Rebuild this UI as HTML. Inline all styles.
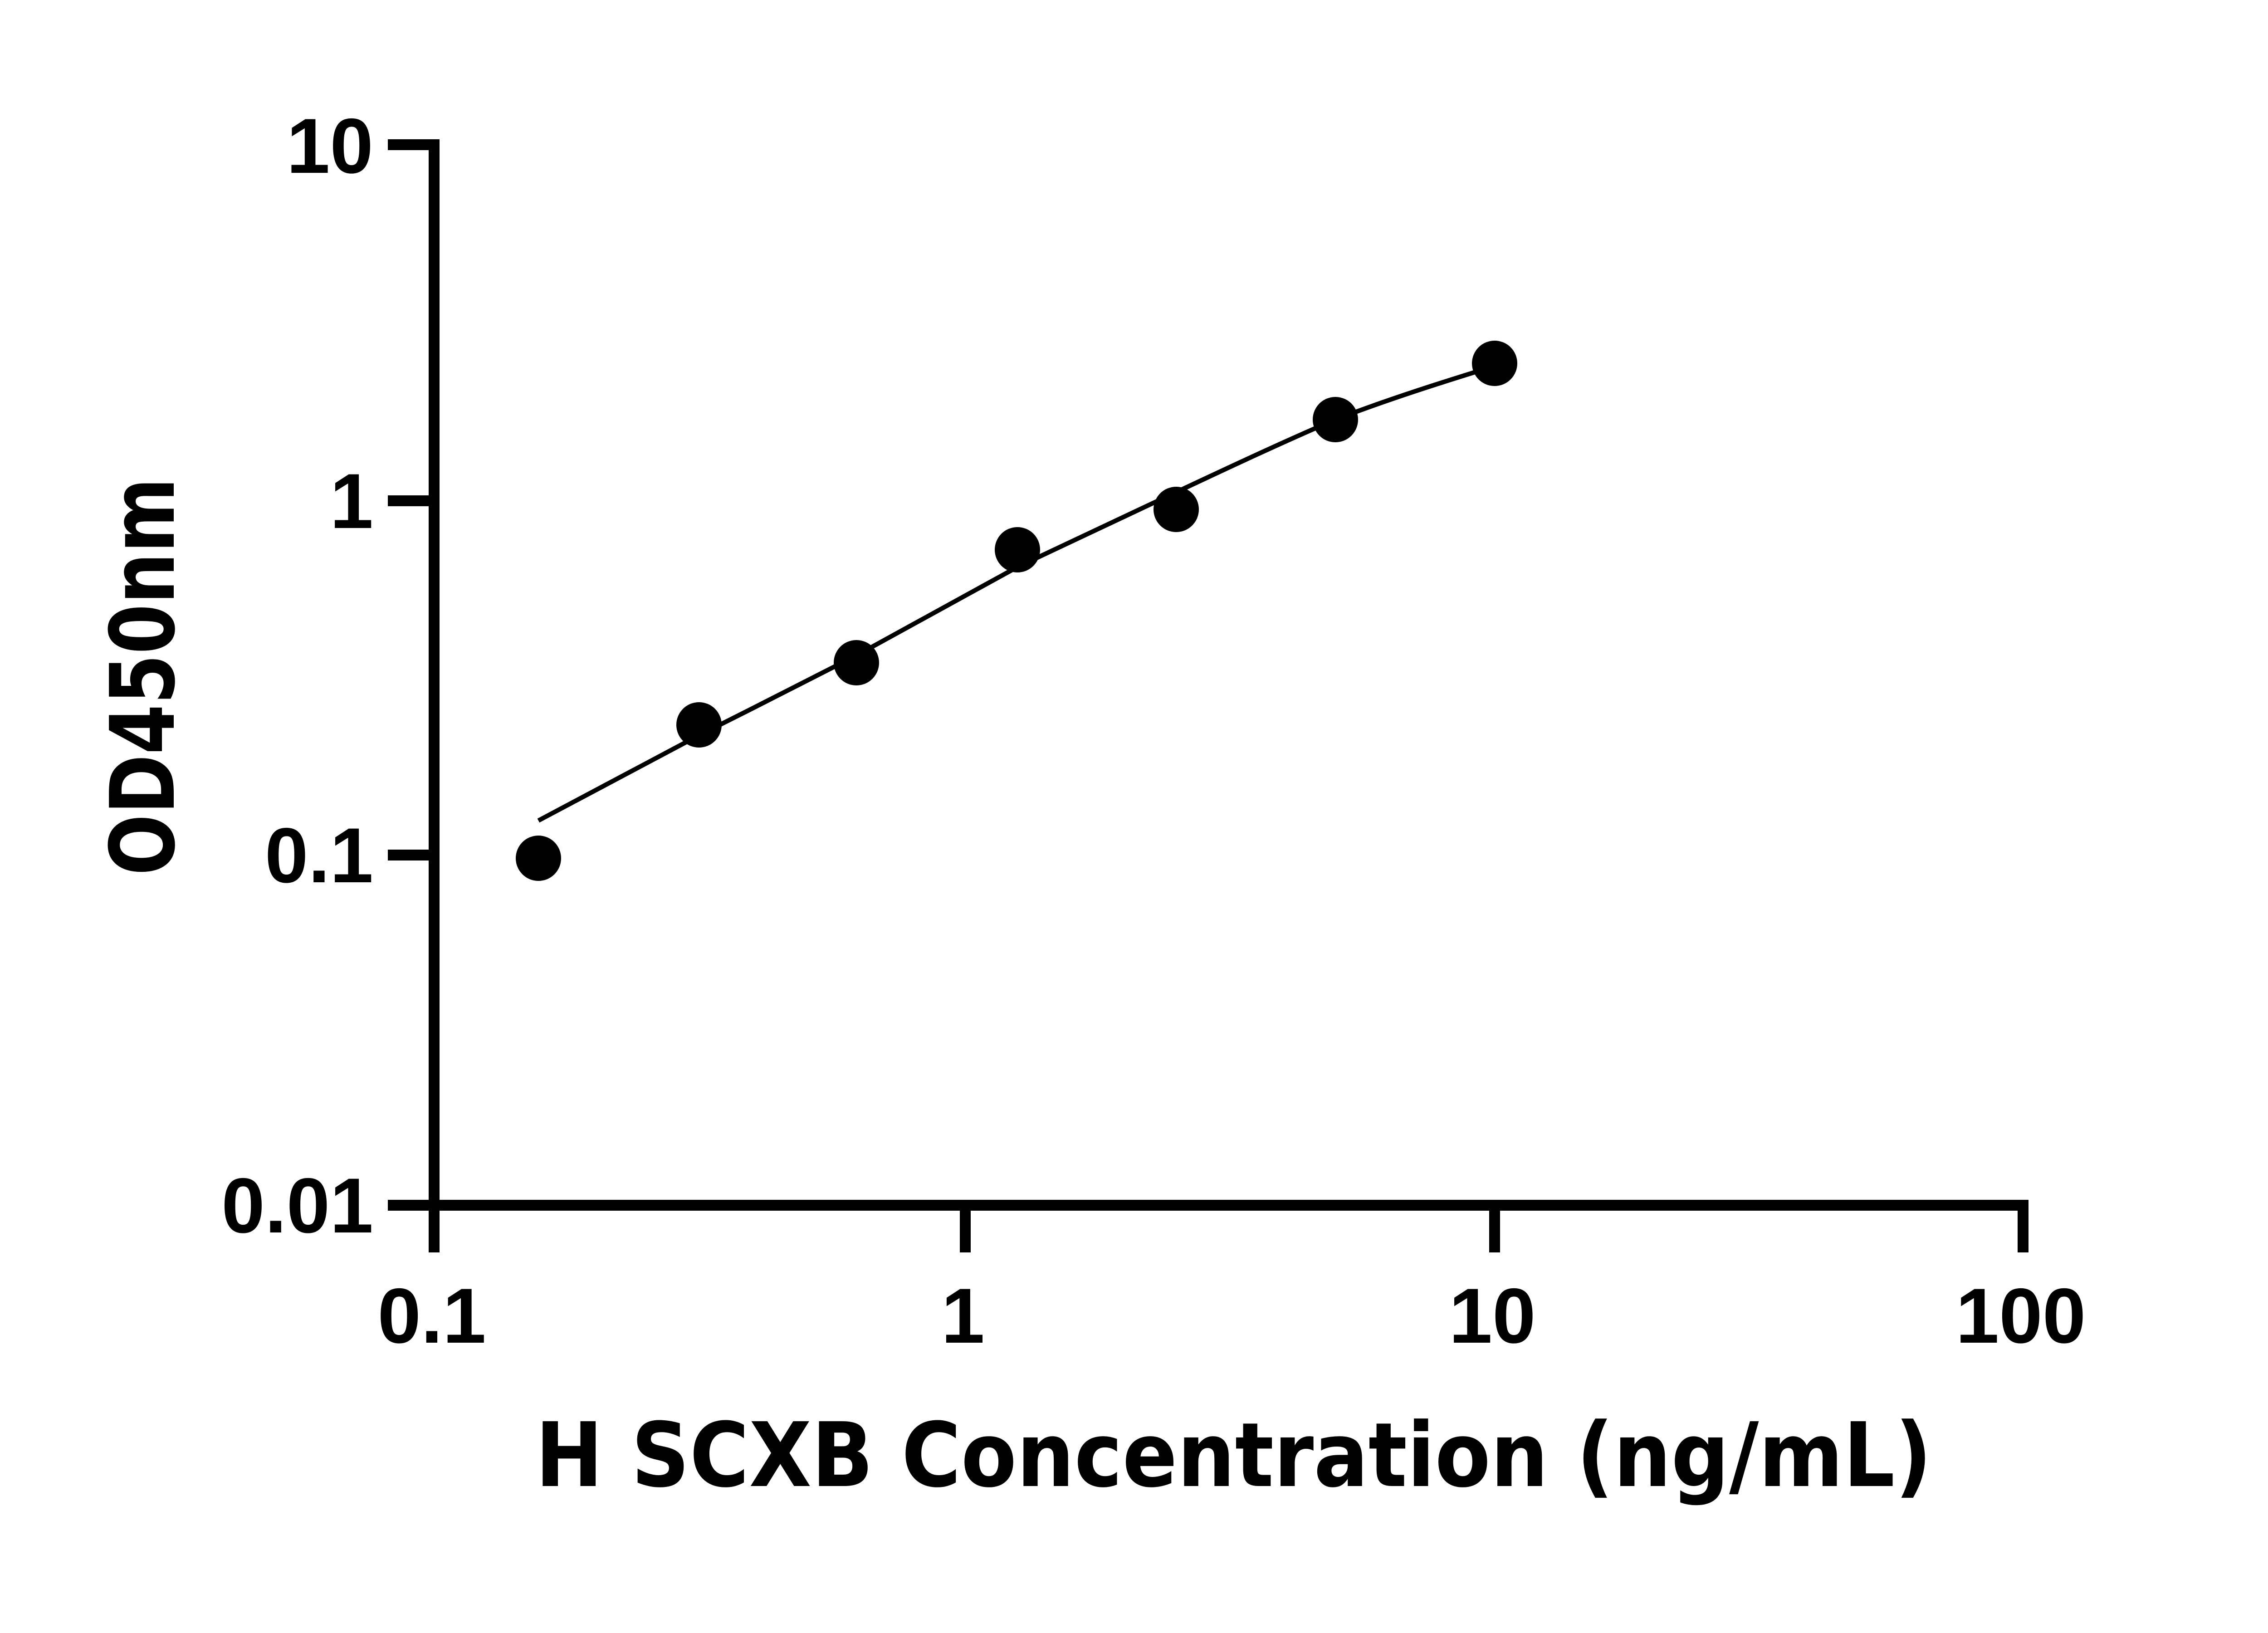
<!DOCTYPE html>
<html><head><meta charset="utf-8"><style>html,body{margin:0;padding:0;background:#fff}svg{display:block}</style></head>
<body>
<svg width="5136" height="3600" viewBox="0 0 5136 3600" xmlns="http://www.w3.org/2000/svg">
<rect width="5136" height="3600" fill="#fff"/>
<g stroke="#000" stroke-width="24" fill="none">
<line x1="957" y1="307" x2="957" y2="2669"/>
<line x1="945" y1="2657" x2="4472" y2="2657"/>
<line x1="855" y1="319" x2="957" y2="319"/>
<line x1="855" y1="1104" x2="957" y2="1104"/>
<line x1="855" y1="1885" x2="957" y2="1885"/>
<line x1="855" y1="2657" x2="957" y2="2657"/>
<line x1="957" y1="2657" x2="957" y2="2761"/>
<line x1="2128" y1="2657" x2="2128" y2="2761"/>
<line x1="3295" y1="2657" x2="3295" y2="2761"/>
<line x1="4460" y1="2657" x2="4460" y2="2761"/>
</g>
<g font-family="Liberation Sans, Arial, sans-serif" font-weight="bold" font-size="172" fill="#000">
<text x="823" y="381" text-anchor="end">10</text>
<text x="823" y="1164" text-anchor="end">1</text>
<text x="823" y="1945" text-anchor="end">0.1</text>
<text x="823" y="2717" text-anchor="end">0.01</text>
<text x="952" y="2960" text-anchor="middle">0.1</text>
<text x="2123" y="2960" text-anchor="middle">1</text>
<text x="3290" y="2960" text-anchor="middle">10</text>
<text x="4455" y="2960" text-anchor="middle">100</text>
</g>
<g font-family="DejaVu Sans, Liberation Sans, sans-serif" font-weight="bold" font-size="196" fill="#000">
<text x="1180" y="3276" textLength="3079" lengthAdjust="spacingAndGlyphs">H SCXB Concentration (ng/mL)</text>
<text transform="translate(383,1930) rotate(-90)" x="0" y="0" textLength="877" lengthAdjust="spacingAndGlyphs">OD450nm</text>
</g>
<path d="M1187,1809 C1305,1747 1423,1684 1541,1621 C1657,1563 1772,1504 1888,1445 C2006,1380 2125,1315 2243,1250 C2360,1195 2476,1140 2593,1085 C2710,1030 2827,975 2944,925 C3061,880 3178,843 3295,807" stroke="#000" stroke-width="10" fill="none"/>
<g fill="#000">
<circle cx="1187" cy="1892" r="50"/>
<circle cx="1541" cy="1598" r="50"/>
<circle cx="1888" cy="1461" r="50"/>
<circle cx="2243" cy="1212" r="50"/>
<circle cx="2593" cy="1123" r="50"/>
<circle cx="2944" cy="925" r="50"/>
<circle cx="3295" cy="801" r="50"/>
</g>
</svg>
</body></html>
